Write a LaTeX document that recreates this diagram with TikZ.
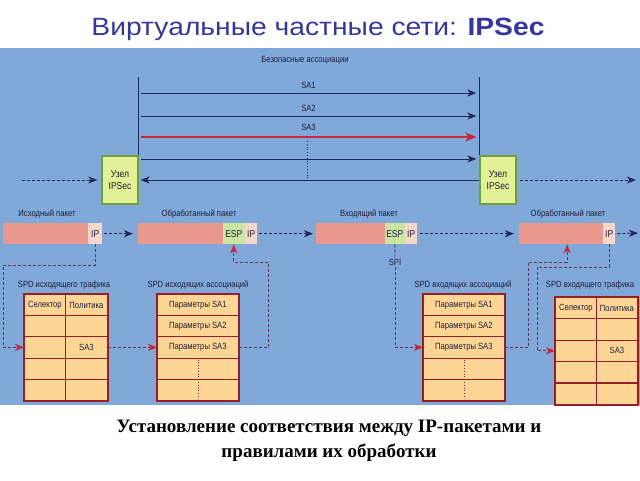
\documentclass[tikz,border=0pt]{standalone}
\usepackage{fontspec}
\setmainfont{Liberation Sans}
\newfontfamily\capfont{Liberation Serif}
\newfontfamily\titlefont[FakeStretch=1.13]{Liberation Sans}
\newfontfamily\lblfont[FakeStretch=0.85]{Liberation Sans}
\usetikzlibrary{arrows.meta,positioning,calc}

\definecolor{panelblue}{RGB}{128,168,216}
\definecolor{titleblue}{RGB}{53,53,165}
\definecolor{textnavy}{RGB}{30,30,60}
\definecolor{arrnavy}{RGB}{30,40,90}
\definecolor{sared}{RGB}{200,40,60}
\definecolor{uzelfill}{RGB}{226,240,150}
\definecolor{uzelgreen}{RGB}{110,160,60}
\definecolor{pktpink}{RGB}{232,152,140}
\definecolor{ippink}{RGB}{248,215,200}
\definecolor{espgreen}{RGB}{200,230,160}
\definecolor{tabfill}{RGB}{253,214,150}
\definecolor{tabred}{RGB}{150,30,40}
\definecolor{linkpurple}{RGB}{100,50,90}

\begin{document}
\begin{tikzpicture}[x=1pt,y=-1pt,>={Stealth[length=9pt,width=7pt,inset=2.5pt]},
   lbl/.style={font=\lblfont\fontsize{9}{10}\selectfont,text=textnavy,inner sep=0pt},
   uzel/.style={draw=uzelgreen,fill=uzelfill,line width=1.3pt,minimum width=36,
     minimum height=48,inner sep=0pt,align=center,font=\lblfont\fontsize{10}{12}\selectfont,text=textnavy},
   pkt/.style={fill=pktpink,minimum height=21,inner sep=0pt,anchor=north west},
   part/.style={minimum height=21,inner sep=0pt,anchor=north east,
     font=\lblfont\fontsize{10}{10}\selectfont,text=textnavy},
   cell/.style={draw=tabred,fill=tabfill,line width=0.8pt,minimum height=21.2,
     inner sep=0pt,anchor=north west,font=\lblfont\fontsize{9}{10}\selectfont,text=textnavy},
   frame/.style={draw=tabred,line width=1.8pt},
   sa/.style={->,draw=arrnavy,line width=1pt},
   flow/.style={->,draw=arrnavy,line width=0.9pt,dash pattern=on 3pt off 2pt},
   link/.style={-{Stealth[length=9pt,width=7pt,inset=2.5pt,color=sared]},draw=linkpurple,
     line width=0.9pt,dash pattern=on 3pt off 2pt}]
  \useasboundingbox (0,0) rectangle (640,480);
  \fill[panelblue] (0,48) rectangle (640,405);

  % titles
  \node[font=\titlefont\fontsize{25}{28}\selectfont,text=titleblue] (title) at (318,29)
    {Виртуальные частные сети: \textbf{IPSec}};
  \node[font=\capfont\bfseries\fontsize{19}{25}\selectfont,align=center] (caption) at (329,441)
    {Установление соответствия между IP-пакетами и\\правилами их обработки};

  % security associations
  \node[lbl] (assoc) at (305,60) {Безопасные ассоциации};
  \node[uzel] (uzelL) at (120,180) {Узел\\IPSec};
  \node[uzel] (uzelR) at (498,180) {Узел\\IPSec};
  \coordinate (vl) at (uzelL.north east |- 0,77);
  \coordinate (vr) at (uzelR.north west |- 0,77);
  \draw[arrnavy,line width=0.8pt] (uzelL.north east) -- (vl);
  \draw[arrnavy,line width=0.8pt] (uzelR.north west) -- (vr);
  \foreach \d/\t in {16/SA1,39/SA2,82/}
    \draw[sa] ($(vl)+(2,\d)$) -- node[lbl,above=4pt]{\t} ($(vr)+(-3,\d)$);
  \draw[sa,draw=sared,line width=2.2pt,-{Stealth[length=11pt,width=9pt,inset=3pt]}] ($(vl)+(2,60)$)
    -- node[lbl,above=5pt]{SA3} ($(vr)+(-3,60)$);
  \draw[sa] (uzelR.west) -- ([xshift=2pt]uzelL.east);
  \coordinate (dots) at (307,141);
  \draw[arrnavy,line width=0.8pt,dotted] (dots) -- ++(0,42);
  \coordinate (inL) at (22,180);
  \coordinate (outR) at (636,180);
  \draw[flow] (inL) -- ([xshift=-4pt]uzelL.west);
  \draw[flow] ([xshift=3pt]uzelR.east) -- (outR);

  % packets
  \node[lbl] (l1) at (47,214) {Исходный пакет};
  \node[lbl] (l2) at (199,214) {Обработанный пакет};
  \node[lbl] (l3) at (369,214) {Входящий пакет};
  \node[lbl] (l4) at (568,214) {Обработанный пакет};
  \node[pkt,minimum width=99] (p1) at (3,223) {};
  \node[part,fill=ippink,minimum width=14] (ip1) at (p1.north east) {IP};
  \node[pkt,minimum width=119] (p2) at (138,223) {};
  \node[part,fill=ippink,minimum width=12] (ip2) at (p2.north east) {IP};
  \node[part,fill=espgreen,minimum width=22] (esp2) at (ip2.north west) {ESP};
  \node[pkt,minimum width=101] (p3) at (316,223) {};
  \node[part,fill=ippink,minimum width=12] (ip3) at (p3.north east) {IP};
  \node[part,fill=espgreen,minimum width=20] (esp3) at (ip3.north west) {ESP};
  \node[pkt,minimum width=96] (p4) at (519,223) {};
  \node[part,fill=ippink,minimum width=12] (ip4) at (p4.north east) {IP};
  \coordinate (outP) at (638,233);
  \draw[flow] ([xshift=2pt]ip1.east) -- ([xshift=-5pt]p2.west);
  \draw[flow] ([xshift=2pt]ip2.east) -- ([xshift=-3pt]p3.west);
  \draw[flow] ([xshift=3pt]ip3.east) -- ([xshift=-5pt]p4.west);
  \draw[flow] ([xshift=2pt]ip4.east) -- (outP);

  % SPD tables
  \node[lbl] (s1) at (64,285) {SPD исходящего трафика};
  \node[lbl] (s2) at (198,285) {SPD исходящих ассоциаций};
  \node[lbl] (s3) at (463,285) {SPD входящих ассоциаций};
  \node[lbl] (s4) at (590,285) {SPD входящего трафика};
  \foreach \r/\a/\b in {1/Селектор/Политика,2//,3//SA3,4//,5//} {
    \node[cell,minimum width=41] (t1a\r) at (24,294+21.2*\r-21.2) {\a};
    \node[cell,minimum width=42] (t1b\r) at (65,294+21.2*\r-21.2) {\b};
    \node[cell,minimum width=41] (t4a\r) at (555,297+21.4*\r-21.4) {\a};
    \node[cell,minimum width=41] (t4b\r) at (596,297+21.4*\r-21.4) {\b};
  }
  \foreach \r/\p in {1/Параметры SA1,2/Параметры SA2,3/Параметры SA3,4/,5/} {
    \node[cell,minimum width=81] (t2r\r) at (157,294+21.2*\r-21.2) {\p};
    \node[cell,minimum width=81] (t3r\r) at (423,294+21.2*\r-21.2) {\p};
  }
  \draw[frame] (t1a1.north west) rectangle (t1b5.south east);
  \draw[frame] (t2r1.north west) rectangle (t2r5.south east);
  \draw[frame] (t3r1.north west) rectangle (t3r5.south east);
  \draw[frame] (t4a1.north west) rectangle (t4b5.south east);
  \draw[tabred,line width=0.8pt,dotted] ([yshift=-2pt]t2r4.north) -- ([yshift=2pt]t2r5.south);
  \draw[tabred,line width=0.8pt,dotted] ([yshift=-2pt]t3r4.north) -- ([yshift=2pt]t3r5.south);

  % links between packets and tables
  \coordinate (k1) at (3,265);
  \coordinate (k2) at (268,262);
  \coordinate (k3) at (528,262);
  \coordinate (k4) at (537,267);
  \node[lbl] (spi) at (395,262) {SPI};
  \draw[link] (ip1.south) |- (k1) |- (t1a3.west);
  \draw[link] (t1b3.east) -- (t2r3.west);
  \draw[link] (t2r3.east) -| (k2) -| (esp2.south);
  \draw[link,-] (esp3.south) -- ([yshift=2pt]spi.north);
  \draw[link] ([yshift=-2pt]spi.south) |- (t3r3.west);
  \draw[link] (t3r3.east) -| (k3) -| (p4.south);
  \draw[link] (ip4.south) |- (k4) |- (t4a3.west);
\end{tikzpicture}
\end{document}
